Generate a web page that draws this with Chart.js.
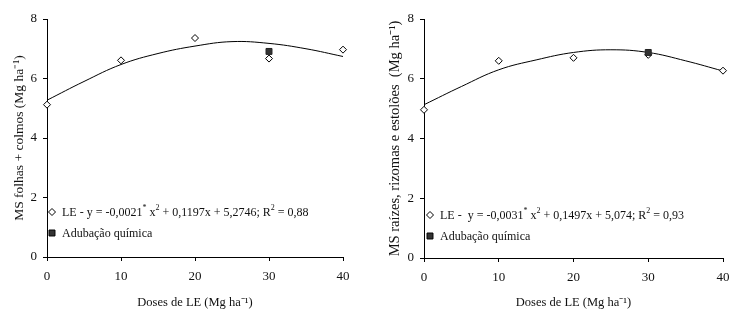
<!DOCTYPE html>
<html>
<head>
<meta charset="utf-8">
<script src="https://cdn.jsdelivr.net/npm/chart.js@4.4.1/dist/chart.umd.min.js"></script>
<style>
  body { margin: 0; background: #fff; }
  #wrap { position: relative; width: 749px; height: 330px; }
  .box { position: absolute; top: 0; width: 374px; height: 330px; }
</style>
</head>
<body>
<div id="wrap">
  <div class="box" style="left:0"><canvas id="folhas-chart"></canvas></div>
  <div class="box" style="left:375px"><canvas id="raizes-chart"></canvas></div>
</div>
<script>
// doses de lodo de esgoto (Mg ha-1)
const doses = [0, 10, 20, 30, 40];
const folhasLE = [5.12, 6.61, 7.36, 6.67, 6.97];
const raizesLE = [4.96, 6.60, 6.70, 6.80, 6.27];

// adubação química (só na dose 30)
const doseQuimica = [30];
const folhasQuimica = [6.91];
const raizesQuimica = [6.88];

// curvas de ajuste
const dosesCurva = [0, 5, 10, 15, 20, 25, 30, 35, 40];
const folhasCurva = [5.27, 5.90, 6.47, 6.84, 7.09, 7.24, 7.18, 7.00, 6.74];
const raizesCurva = [5.13, 5.74, 6.30, 6.63, 6.88, 6.97, 6.88, 6.60, 6.26];

const xTicks = [0, 10, 20, 30, 40];
const yTicks = [0, 2, 4, 6, 8];

const FONTE = "'Liberation Serif', 'Times New Roman', serif";
const COR = "#111";

const pares = (xs, ys) => xs.map((x, i) => ({ x: x, y: ys[i] }));

// legenda desenhada dentro da área do gráfico, com sobrescritos
const legendaInterna = {
  id: "legendaInterna",
  afterDraw(chart, args, opts) {
    const ctx = chart.ctx;
    ctx.save();
    ctx.textBaseline = "alphabetic";
    opts.items.forEach((item) => {
      ctx.lineWidth = 1;
      ctx.strokeStyle = "#000";
      if (item.marker === "diamond") {
        ctx.fillStyle = "#fff";
        Chart.helpers.drawPoint(ctx, { pointStyle: "rectRot", radius: 3.5, rotation: 0, borderWidth: 1 }, opts.x, item.y);
      } else {
        ctx.fillStyle = "#333";
        Chart.helpers.drawPoint(ctx, { pointStyle: "rect", radius: 4.2, rotation: 0, borderWidth: 1 }, opts.x, item.y);
      }
      let x = opts.x + opts.gap;
      const base = item.y + 4;
      ctx.fillStyle = COR;
      item.parts.forEach((p) => {
        const sup = p[1] === 1;
        ctx.font = (sup ? "8px " : "12px ") + FONTE;
        ctx.fillText(p[0], x, sup ? base - 6 : base);
        x += ctx.measureText(p[0]).width;
      });
    });
    ctx.restore();
  },
};

const makeChart = (id, pontos, quimica, curva, yTitle, eixoY, direita, legenda) => {
  const ctx = document.getElementById(id).getContext("2d");
  return new Chart(ctx, {
    type: "scatter",
    data: {
      datasets: [
        {
          label: "Adubação química",
          data: pares(doseQuimica, quimica),
          pointStyle: "rect",
          pointRadius: 4.2,
          backgroundColor: "#333",
          borderColor: "#222",
          borderWidth: 1,
          clip: false,
          order: 0,
        },
        {
          label: "LE",
          data: pares(doses, pontos),
          pointStyle: "rectRot",
          pointRadius: 3.5,
          backgroundColor: "#fff",
          borderColor: "#000",
          borderWidth: 1,
          clip: false,
          order: 1,
        },
        {
          label: "ajuste",
          data: pares(dosesCurva, curva),
          showLine: true,
          tension: 0.4,
          pointRadius: 0,
          borderColor: "#000",
          borderWidth: 1,
          clip: false,
          order: 2,
        },
      ],
    },
    options: {
      responsive: false,
      animation: false,
      layout: { padding: { top: 19, right: direita, left: 0, bottom: 0 } },
      plugins: {
        legend: { display: false },
        tooltip: { enabled: false },
        legendaInterna: legenda,
      },
      scales: {
        x: {
          type: "linear",
          min: 0,
          max: 40,
          afterBuildTicks: (s) => { s.ticks = xTicks.map((v) => ({ value: v })); },
          afterFit: (s) => { s.height = eixoY.alturaX; },
          border: { display: true, color: "#000", width: 1 },
          grid: { display: true, drawOnChartArea: false, drawTicks: true, tickLength: 4, color: "#000" },
          ticks: { color: COR, font: { family: FONTE, size: 13 }, padding: 8, maxRotation: 0 },
          title: {
            display: true,
            text: "Doses de LE (Mg ha⁻¹)",
            color: COR,
            font: { family: FONTE, size: 12.5 },
            padding: { top: 4, bottom: 20 },
          },
        },
        y: {
          min: 0,
          max: 8,
          afterBuildTicks: (s) => { s.ticks = yTicks.map((v) => ({ value: v })); },
          afterFit: (s) => { s.width = eixoY.largura; },
          border: { display: true, color: "#000", width: 1 },
          grid: { display: true, drawOnChartArea: false, drawTicks: true, tickLength: 4, color: "#000" },
          ticks: { color: COR, font: { family: FONTE, size: 13 }, padding: 6 },
          title: {
            display: true,
            text: yTitle,
            color: COR,
            font: { family: FONTE, size: eixoY.tituloFonte },
            padding: { top: 11, bottom: 4 },
          },
        },
      },
    },
    plugins: [legendaInterna],
  });
};

const setSize = (id) => {
  const c = document.getElementById(id);
  c.width = 374;
  c.height = 330;
};
setSize("folhas-chart");
setSize("raizes-chart");

makeChart(
  "folhas-chart",
  folhasLE,
  folhasQuimica,
  folhasCurva,
  "MS folhas + colmos (Mg ha⁻¹)",
  { largura: 47, alturaX: 73, tituloFonte: 13.5 },
  31,
  {
    x: 52,
    gap: 10,
    items: [
      {
        marker: "diamond",
        y: 212,
        parts: [["LE - y = -0,0021"], ["*", 1], [" x"], ["2", 1], [" + 0,1197x + 5,2746; R"], ["2", 1], [" = 0,88"]],
      },
      { marker: "square", y: 233, parts: [["Adubação química"]] },
    ],
  }
);

makeChart(
  "raizes-chart",
  raizesLE,
  raizesQuimica,
  raizesCurva,
  "MS raízes, rizomas e estolões  (Mg ha⁻¹)",
  { largura: 49, alturaX: 72, tituloFonte: 14.5 },
  26,
  {
    x: 55,
    gap: 10,
    items: [
      {
        marker: "diamond",
        y: 215,
        parts: [["LE -  y = -0,0031"], ["*", 1], [" x"], ["2", 1], [" + 0,1497x + 5,074; R"], ["2", 1], [" = 0,93"]],
      },
      { marker: "square", y: 236, parts: [["Adubação química"]] },
    ],
  }
);
</script>
</body>
</html>
